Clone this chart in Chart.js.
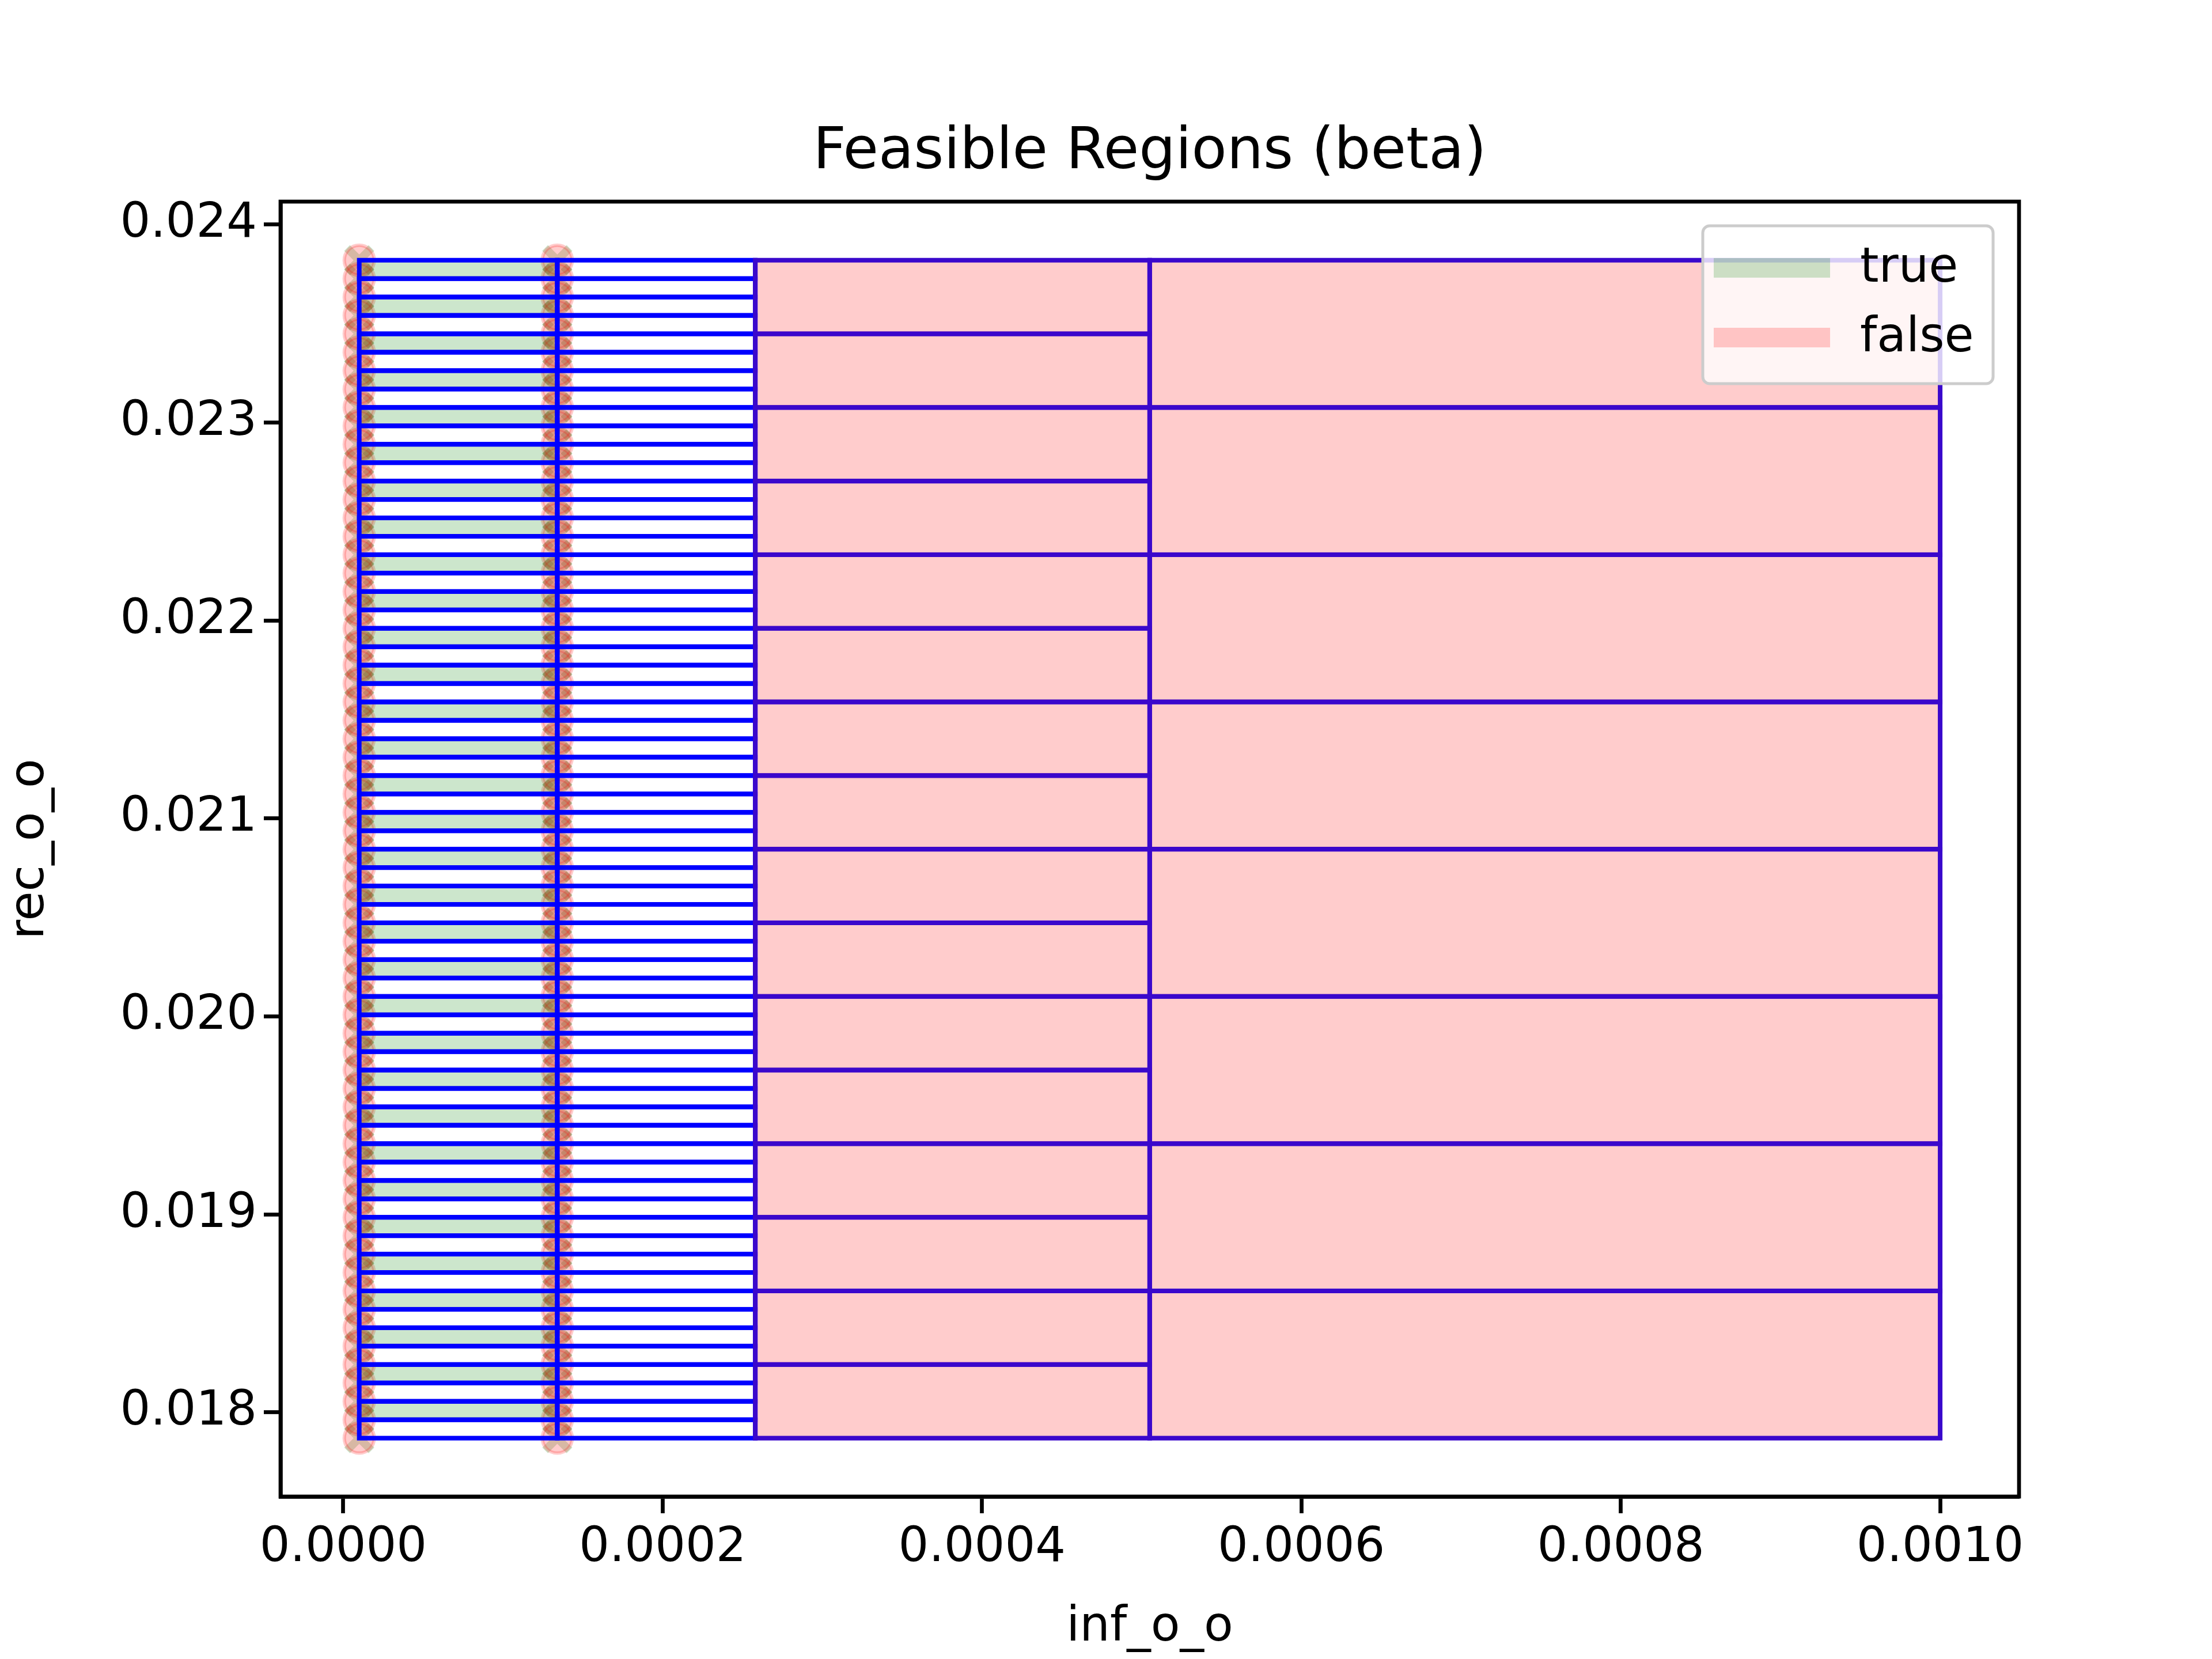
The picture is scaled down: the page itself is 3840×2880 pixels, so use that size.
<!DOCTYPE html>
<html>
<head>
<meta charset="utf-8">
<script src="https://cdn.jsdelivr.net/npm/chart.js@4"></script>
<style>
  body { margin: 0; background: #fff; }
  canvas { display: block; }
</style>
</head>
<body>
<canvas id="c" width="3840" height="2880"></canvas>
<script>
// column boundaries along inf_o_o, rows per column, and what each column's cells hold
const xEdges = [0.00001, 0.000134, 0.000258, 0.000505, 0.001];
const rowCounts = [64, 64, 16, 8];
const colStatus = ['alternate', 'none', 'false', 'false'];
const yRange = [0.01787, 0.02382];
const xTicks = [0, 0.0002, 0.0004, 0.0006, 0.0008, 0.0010];
const yTicks = [0.018, 0.019, 0.020, 0.021, 0.022, 0.023, 0.024];
const markerX = [0.00001, 0.000134];

const FONT = '"DejaVu Sans", sans-serif';
const LW = 6.7;

// corner points of the left two columns where the sampler left markers
const markerYs = [];
for (let i = 0; i <= rowCounts[0]; i++) {
    markerYs.push(yRange[0] + (yRange[1] - yRange[0]) * i / rowCounts[0]);
}
const falsePts = [], truePts = [];
markerX.forEach(x => markerYs.forEach(y => {
    falsePts.push({ x: x, y: y });
    truePts.push({ x: x, y: y });
}));

const cellsPlugin = {
    id: 'cells',
    afterDatasetsDraw(chart) {
        const ctx = chart.ctx, xs = chart.scales.x, ys = chart.scales.y;
        ctx.save();
        for (let c = 0; c < rowCounts.length; c++) {
            const x0 = xs.getPixelForValue(xEdges[c]);
            const x1 = xs.getPixelForValue(xEdges[c + 1]);
            const n = rowCounts[c];
            for (let r = 0; r < n; r++) {
                const yb = ys.getPixelForValue(yRange[0] + (yRange[1] - yRange[0]) * r / n);
                const yt = ys.getPixelForValue(yRange[0] + (yRange[1] - yRange[0]) * (r + 1) / n);
                let fill = null, edge = '#0000ff';
                if (colStatus[c] === 'alternate' && r % 2 === 1) fill = 'rgba(0,128,0,0.2)';
                if (colStatus[c] === 'false') { fill = 'rgba(255,0,0,0.2)'; edge = '#3a08cc'; }
                if (fill) { ctx.fillStyle = fill; ctx.fillRect(x0, yt, x1 - x0, yb - yt); }
                ctx.strokeStyle = edge;
                ctx.lineWidth = 8;
                ctx.strokeRect(x0, yt, x1 - x0, yb - yt);
            }
        }
        ctx.restore();
    },
    afterDraw(chart) {
        const ctx = chart.ctx, a = chart.chartArea;
        ctx.save();
        // frame
        ctx.strokeStyle = '#000';
        ctx.lineWidth = LW;
        ctx.strokeRect(a.left, a.top, a.right - a.left, a.bottom - a.top);
        // title
        ctx.fillStyle = '#000';
        ctx.font = '100px ' + FONT;
        ctx.textAlign = 'center';
        ctx.textBaseline = 'middle';
        ctx.fillText('Feasible Regions (beta)', (a.left + a.right) / 2, 266);
        // legend
        const lx = 2956, ly = 392, lw = 504, lh = 274;
        ctx.fillStyle = 'rgba(255,255,255,0.8)';
        ctx.strokeStyle = '#cccccc';
        ctx.lineWidth = 5;
        ctx.beginPath();
        ctx.roundRect(lx, ly, lw, lh, 12);
        ctx.fill();
        ctx.stroke();
        const items = [['true', 'rgba(0,128,0,0.2)', 465], ['false', 'rgba(255,0,0,0.2)', 586]];
        ctx.textAlign = 'left';
        ctx.font = '83px ' + FONT;
        items.forEach(([label, col, y]) => {
            ctx.fillStyle = col;
            ctx.fillRect(2975, y - 17, 202, 34);
            ctx.fillStyle = '#000';
            ctx.fillText(label, 3229, y + 2);
        });
        ctx.restore();
    }
};

new Chart(document.getElementById('c'), {
    type: 'scatter',
    data: {
        datasets: [
            {
                label: 'false', data: falsePts, pointStyle: 'circle', pointRadius: 26,
                backgroundColor: 'rgba(255,0,0,0.2)', borderColor: 'rgba(255,0,0,0.2)', borderWidth: 6
            },
            {
                label: 'true', data: truePts, pointStyle: 'crossRot', pointRadius: 30,
                backgroundColor: 'rgba(0,128,0,0.2)', borderColor: 'rgba(0,128,0,0.2)', borderWidth: 14
            }
        ]
    },
    options: {
        responsive: false,
        animation: false,
        devicePixelRatio: 1,
        layout: { padding: { top: 350, right: 335, bottom: 0, left: 0 } },
        plugins: { legend: { display: false }, tooltip: { enabled: false } },
        scales: {
            x: {
                type: 'linear', min: -0.0000393, max: 0.0010494,
                afterBuildTicks: s => { s.ticks = xTicks.map(v => ({ value: v })); },
                afterFit: s => { s.height = 282; },
                ticks: { color: '#000', font: { family: FONT, size: 83 }, padding: 12,
                    callback: v => v.toFixed(4) },
                grid: { drawOnChartArea: false, tickLength: 29, tickWidth: LW, color: '#000' },
                border: { color: '#000', width: LW },
                title: { display: true, text: 'inf_o_o', color: '#000', font: { family: FONT, size: 83 }, padding: { top: 0 } }
            },
            y: {
                type: 'linear', min: 0.017575, max: 0.024116,
                afterBuildTicks: s => { s.ticks = yTicks.map(v => ({ value: v })); },
                afterFit: s => { s.width = 487; },
                ticks: { color: '#000', font: { family: FONT, size: 83 }, padding: 12,
                    callback: v => v.toFixed(3) },
                grid: { drawOnChartArea: false, tickLength: 29, tickWidth: LW, color: '#000' },
                border: { color: '#000', width: LW },
                title: { display: true, text: 'rec_o_o', color: '#000', font: { family: FONT, size: 83 }, padding: { bottom: 0 } }
            }
        }
    },
    plugins: [cellsPlugin]
});
</script>
</body>
</html>
